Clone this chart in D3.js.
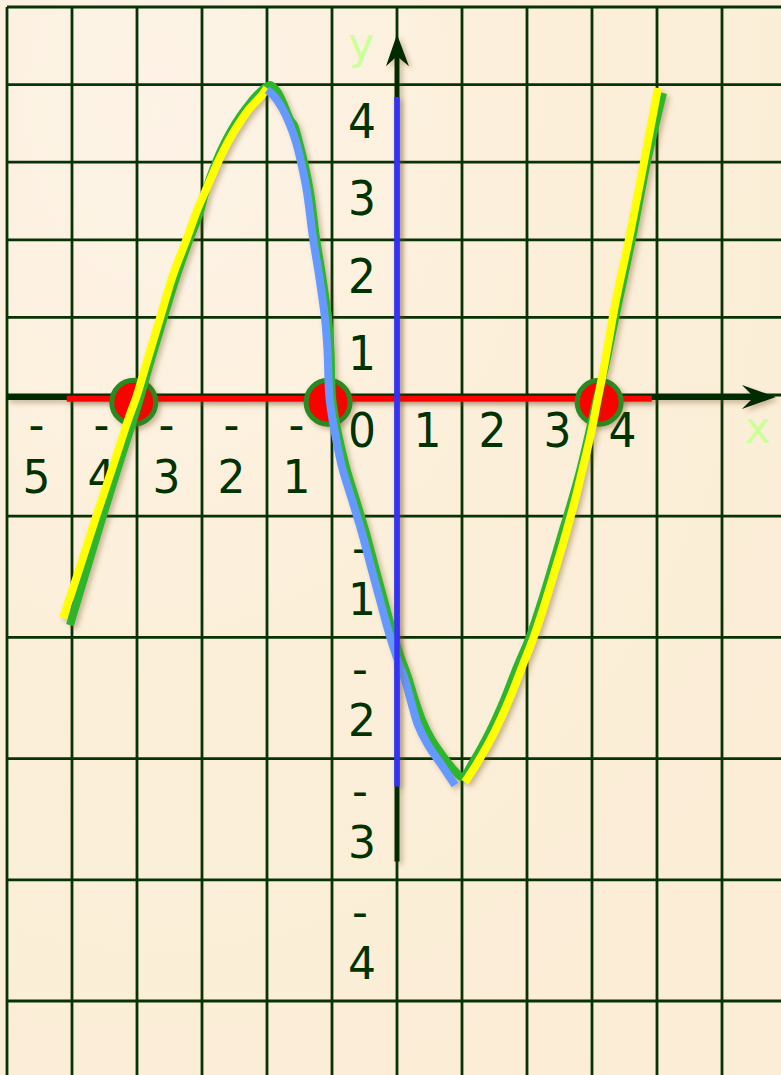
<!DOCTYPE html>
<html>
<head>
<meta charset="utf-8">
<script src="https://cdn.jsdelivr.net/npm/d3@7/dist/d3.min.js"></script>
<style>
  html, body { margin: 0; padding: 0; background: #fcf0da; }
  svg { display: block; }
  text { font-family: "DejaVu Sans", Verdana, sans-serif; }
</style>
</head>
<body>
<svg id="chart" width="781" height="1075"></svg>
<script>
// ---------- data (graph units) ----------
const gridXValues = [-6, -5, -4, -3, -2, -1, 0, 1, 2, 3, 4, 5];
const gridYValues = [5, 4, 3, 2, 1, 0, -1, -2, -3, -4, -5];

const xTickValues = [-5, -4, -3, -2, -1, 0, 1, 2, 3, 4];
const yTickValues = [4, 3, 2, 1, -1, -2, -3, -4];

// whole function graph (green)
const greenCurve = [
  [-5.031, -1.898], [-4.785, -1.460], [-4.554, -1.048], [-4.323, -0.652], [-4.092, -0.264],
  [-3.954, -0.025], [-3.785, 0.451], [-3.600, 0.966], [-3.400, 1.508], [-3.200, 1.985],
  [-3.031, 2.358], [-2.954, 2.603], [-2.785, 3.003], [-2.646, 3.260], [-2.492, 3.492],
  [-2.308, 3.711], [-2.138, 3.879], [-1.954, 3.995], [-1.850, 3.920], [-1.750, 3.760],
  [-1.640, 3.540], [-1.585, 3.479], [-1.508, 3.260], [-1.431, 3.003], [-1.338, 2.616],
  [-1.246, 2.023], [-1.154, 1.546], [-1.062, 0.992], [-1.023, 0.580], [-1.000, -0.025],
  [-0.908, -0.314], [-0.785, -0.594], [-0.631, -0.866], [-0.477, -1.139], [-0.338, -1.419],
  [-0.200, -1.691], [-0.062, -1.964], [0.046, -2.145], [0.169, -2.327], [0.277, -2.517],
  [0.385, -2.681], [0.538, -2.847], [0.754, -3.012], [0.892, -3.102], [1.000, -3.152],
  [1.185, -3.012], [1.415, -2.789], [1.646, -2.517], [1.846, -2.244], [2.046, -1.989],
  [2.231, -1.691], [2.385, -1.419], [2.538, -1.139], [2.692, -0.866], [2.831, -0.594],
  [2.954, -0.314], [3.077, -0.025], [3.200, 0.361], [3.308, 0.799], [3.415, 1.224],
  [3.615, 2.010], [3.846, 3.003], [4.092, 3.892]
];

// increasing part, left (yellow)
const yellowLeft = [
  [-5.138, -1.840], [-4.877, -1.419], [-4.631, -1.007], [-4.385, -0.611], [-4.138, -0.206],
  [-4.000, 0.000], [-3.831, 0.477], [-3.646, 0.992], [-3.446, 1.546], [-3.231, 2.023],
  [-3.062, 2.410], [-2.954, 2.616], [-2.754, 3.003], [-2.600, 3.260], [-2.446, 3.479],
  [-2.262, 3.698], [-2.077, 3.866], [-2.000, 3.956]
];

// decreasing part (light blue)
const blueMiddle = [
  [-2.000, 3.930], [-1.908, 3.866], [-1.769, 3.698], [-1.646, 3.479], [-1.554, 3.260],
  [-1.477, 3.003], [-1.385, 2.616], [-1.292, 2.023], [-1.200, 1.546], [-1.108, 0.992],
  [-1.069, 0.580], [-1.038, -0.025], [-0.954, -0.314], [-0.846, -0.594], [-0.692, -0.866],
  [-0.538, -1.139], [-0.400, -1.419], [-0.262, -1.691], [-0.123, -1.964], [0.000, -2.170],
  [0.123, -2.351], [0.231, -2.558], [0.323, -2.723], [0.477, -2.888], [0.708, -3.069],
  [0.892, -3.218]
];

// increasing part, right (yellow)
const yellowRight = [
  [1.046, -3.193], [1.262, -3.012], [1.492, -2.789], [1.723, -2.517], [1.923, -2.244],
  [2.108, -1.989], [2.292, -1.691], [2.446, -1.419], [2.600, -1.139], [2.738, -0.866],
  [2.862, -0.594], [2.985, -0.314], [3.092, -0.025], [3.185, 0.361], [3.277, 0.799],
  [3.369, 1.224], [3.569, 2.010], [3.800, 3.003], [4.015, 3.956]
];

// zeros of the function (red dots) and domain segment (red line)
const zeroPoints = [[-4.05, -0.06], [-1.06, -0.06], [3.11, -0.06]];
const domainSegment = [[-5.08, -0.03], [3.92, -0.03]];
// range segment on the y axis (blue line)
const rangeSegment = [[0, 3.84], [0, -3.23]];

// axes extents
const xAxisExtent = [-6, 5.83];
const yAxisExtent = [-3.85, 4.65];

// ---------- scales ----------
const W = 781, H = 1075;
const x = d3.scaleLinear().domain([-6, 6]).range([7, 787]);
const y = d3.scaleLinear().domain([-5, 0, 5]).range([1001, 395, 7]);

const svg = d3.select("#chart");
const defs = svg.append("defs");

const shadow = defs.append("filter").attr("id", "shadow")
  .attr("filterUnits", "userSpaceOnUse")
  .attr("x", 0).attr("y", 0).attr("width", W).attr("height", H);
shadow.append("feDropShadow").attr("dx", 3).attr("dy", 3)
  .attr("stdDeviation", 2.5).attr("flood-color", "#6b4a1a").attr("flood-opacity", 0.35);

const bg = defs.append("radialGradient").attr("id", "bg")
  .attr("cx", "20%").attr("cy", "10%").attr("r", "110%");
bg.append("stop").attr("offset", "0%").attr("stop-color", "#fdf3e6");
bg.append("stop").attr("offset", "50%").attr("stop-color", "#fcefd9");
bg.append("stop").attr("offset", "100%").attr("stop-color", "#fbedd6");

svg.append("rect").attr("width", W).attr("height", H).attr("fill", "url(#bg)");

// ---------- grid ----------
const gridColor = "#073305";
svg.append("g").selectAll("line").data(gridXValues).join("line")
  .attr("x1", d => x(d)).attr("x2", d => x(d))
  .attr("y1", y(5)).attr("y2", H)
  .attr("stroke", gridColor).attr("stroke-width", 2.8);
svg.append("g").selectAll("line").data(gridYValues).join("line")
  .attr("y1", d => y(d)).attr("y2", d => y(d))
  .attr("x1", x(-6)).attr("x2", W)
  .attr("stroke", gridColor).attr("stroke-width", 2.8);

// ---------- axes ----------
const axisColor = "#002a00";
const axes = svg.append("g").attr("filter", "url(#shadow)");
const x0 = x(0), y0 = y(0);
const xTip = x(xAxisExtent[1]);
axes.append("line")
  .attr("x1", x(xAxisExtent[0])).attr("x2", xTip - 20)
  .attr("y1", y0 + 2).attr("y2", y0 + 2)
  .attr("stroke", axisColor).attr("stroke-width", 6);
axes.append("path")
  .attr("d", `M${xTip},${y0 + 2} L${xTip - 34},${y0 - 10} L${xTip - 22},${y0 + 2} L${xTip - 34},${y0 + 14} Z`)
  .attr("fill", axisColor);
const yTip = y(yAxisExtent[1]);
axes.append("line")
  .attr("x1", x0).attr("x2", x0)
  .attr("y1", y(yAxisExtent[0])).attr("y2", yTip + 20)
  .attr("stroke", axisColor).attr("stroke-width", 5);
axes.append("path")
  .attr("d", `M${x0},${yTip} L${x0 - 11},${yTip + 32} L${x0},${yTip + 22} L${x0 + 12},${yTip + 32} Z`)
  .attr("fill", axisColor);

// ---------- tick labels ----------
const labelColor = "#003300";
const fs = 44;
const labels = svg.append("g").attr("fill", labelColor)
  .attr("font-size", fs).attr("text-anchor", "middle");

xTickValues.forEach(v => {
  const cx = x(v - 0.5) - 3;
  if (v < 0) {
    const t = labels.append("text").attr("transform", `translate(${cx},0) scale(1,1.06)`);
    t.append("tspan").attr("x", 0).attr("y", 441 / 1.06).text("-");
    t.append("tspan").attr("x", 0).attr("y", 493 / 1.06).text(String(-v));
  } else {
    labels.append("text").attr("transform", `translate(${v === 0 ? x(-0.5) - 2.5 : cx + 1},${y0 + 52}) scale(1,1.08)`)
      .text(String(v));
  }
});

yTickValues.forEach(v => {
  const cx = x(-0.5) - 2.5;
  if (v > 0) {
    labels.append("text").attr("transform", `translate(${cx},${y(v) + 53}) scale(1,1.08)`)
      .text(String(v));
  } else {
    const t = labels.append("text").attr("transform", `translate(${cx},${y(v)})`);
    t.append("tspan").attr("x", -2).attr("y", 47).text("-");
    t.append("tspan").attr("x", 0).attr("y", 99).text(String(-v));
  }
});

// axis names
svg.append("text").attr("x", x(5.55)).attr("y", y0 + 48)
  .attr("text-anchor", "middle").attr("font-size", 44).attr("fill", "#ccff99").text("x");
svg.append("text").attr("x", x(-0.55)).attr("y", 59)
  .attr("text-anchor", "middle").attr("font-size", 44).attr("fill", "#ccff99").text("y");

// ---------- domain segment ----------
svg.append("line")
  .attr("x1", x(domainSegment[0][0])).attr("x2", x(domainSegment[1][0]))
  .attr("y1", y(domainSegment[0][1])).attr("y2", y(domainSegment[1][1]))
  .attr("stroke", "#ff0000").attr("stroke-width", 6).attr("filter", "url(#shadow)");

// ---------- zeros ----------
svg.append("g").attr("filter", "url(#shadow)").selectAll("circle").data(zeroPoints).join("circle")
  .attr("cx", d => x(d[0])).attr("cy", d => y(d[1]))
  .attr("r", 22).attr("fill", "#ff0000")
  .attr("stroke", "#2a8a22").attr("stroke-width", 5);

// ---------- curves ----------
const line = d3.line().x(d => x(d[0])).y(d => y(d[1])).curve(d3.curveCatmullRom.alpha(0.5));
const curves = svg.append("g").attr("fill", "none").attr("filter", "url(#shadow)");
curves.append("path").attr("d", line(greenCurve))
  .attr("stroke", "#2db52d").attr("stroke-width", 8).attr("stroke-linejoin", "round");
curves.append("path").attr("d", line(yellowLeft))
  .attr("stroke", "#ffff00").attr("stroke-width", 8);
curves.append("path").attr("d", line(yellowRight))
  .attr("stroke", "#ffff00").attr("stroke-width", 8);
curves.append("path").attr("d", line(blueMiddle))
  .attr("stroke", "#6699ff").attr("stroke-width", 8);

// ---------- range segment ----------
svg.append("line")
  .attr("x1", x(rangeSegment[0][0])).attr("x2", x(rangeSegment[1][0]))
  .attr("y1", y(rangeSegment[0][1])).attr("y2", y(rangeSegment[1][1]))
  .attr("stroke", "#3333ff").attr("stroke-width", 5.5).attr("filter", "url(#shadow)");
</script>
</body>
</html>
